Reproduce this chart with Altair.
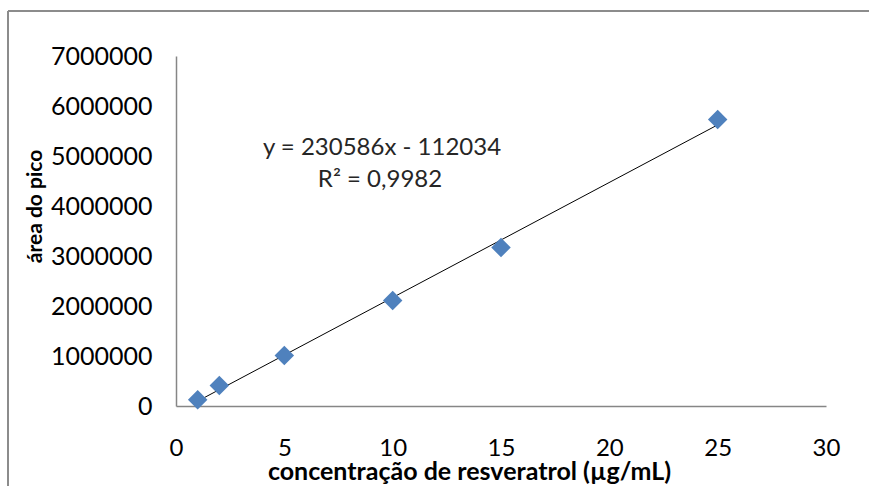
import altair as alt
import pandas as pd

conc = [1, 2, 5, 10, 15, 25]
area = [125000, 410000, 1010000, 2110000, 3170000, 5730000]
eq_lines = ["y = 230586x - 112034", "R² = 0,9982"]

df = pd.DataFrame({"conc": conc, "area": area})
FONT = "Lato"

xs = alt.Scale(domain=[0, 30], nice=False)
ys = alt.Scale(domain=[0, 7000000], nice=False)

xaxis = alt.Axis(values=[0, 5, 10, 15, 20, 25, 30], grid=False, ticks=False,
                 domainColor="#868686", domainWidth=1.5, labelFont=FONT,
                 labelFontSize=24, labelColor="#000000", labelPadding=30,
                 labelFlush=False,
                 title="concentração de resveratrol (µg/mL)", titleFont=FONT,
                 titleFontSize=25, titleFontWeight="bold", titleColor="#000000",
                 titleX=293, titleY=73, titleBaseline="alphabetic", titleAnchor="middle",
                 titleAlign="center")
yaxis = alt.Axis(values=list(range(0, 7000001, 1000000)), grid=False, ticks=False,
                 domainColor="#868686", domainWidth=1.5, labelFont=FONT,
                 labelFontSize=25, labelColor="#000000", labelPadding=24,
                 labelFlush=False,
                 format="d", title="área do pico", titleFont=FONT, titleFontSize=21,
                 titleFontWeight="bold", titleColor="#000000", titleX=-135, titleY=150,
                 titleAngle=-90, titleBaseline="alphabetic", titleAlign="center")

base = alt.Chart(df)

points = base.mark_point(shape="diamond", filled=True, size=380, color="#4F81BD",
                         opacity=1).encode(
    x=alt.X("conc:Q", scale=xs, axis=xaxis),
    y=alt.Y("area:Q", scale=ys, axis=yaxis),
)

trend = base.transform_regression("conc", "area", extent=[1, 25]).mark_line(
    color="#000000", strokeWidth=1).encode(
    x=alt.X("conc:Q", scale=xs),
    y=alt.Y("area:Q", scale=ys),
)

eq_df = pd.DataFrame({"t": eq_lines, "px": [206, 204], "py": [92, 124]})
eq = alt.Chart(eq_df).mark_text(font=FONT, fontSize=24, color="#262626",
                                align="center", baseline="middle").encode(
    text="t:N", x=alt.X("px:Q", scale=None), y=alt.Y("py:Q", scale=None))

frame_top = alt.Chart(df).mark_rule(color="#8c8c8c", strokeWidth=2).encode(
    x=alt.value(-168), x2=alt.value(700), y=alt.value(-45))
frame_left = alt.Chart(df).mark_rule(color="#8c8c8c", strokeWidth=2).encode(
    x=alt.value(-168), y=alt.value(-45), y2=alt.value(440))

chart = alt.layer(frame_top, frame_left, trend, points, eq).properties(
    width=650, height=350,
    autosize=alt.AutoSizeParams(type="none"),
    padding={"left": 176, "top": 56, "right": 43, "bottom": 80},
    background="white",
).configure_view(stroke=None)

chart.save("out.html", embed_options={"renderer": "svg", "actions": False})
